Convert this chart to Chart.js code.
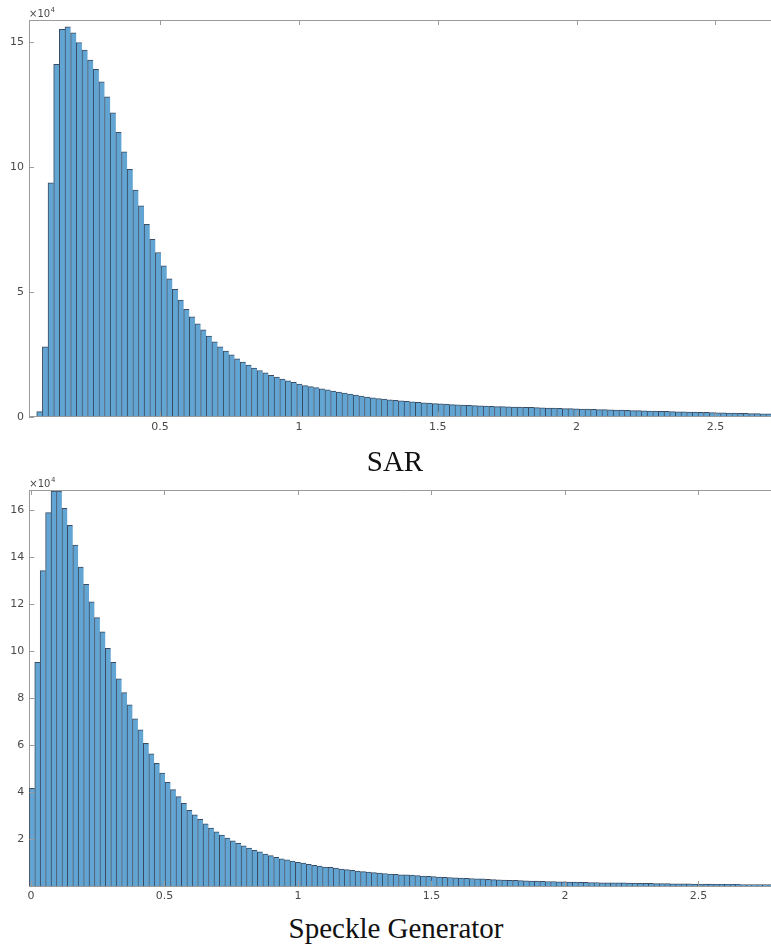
<!DOCTYPE html>
<html>
<head>
<meta charset="utf-8">
<script src="https://cdn.jsdelivr.net/npm/chart.js@4/dist/chart.umd.min.js"></script>
<style>
  html, body { margin: 0; padding: 0; background: #fff; }
  body { width: 771px; height: 946px; position: relative; overflow: hidden; }
  canvas { position: absolute; left: 0; }
  #c1 { top: 0; }
  #c2 { top: 470px; }
  .ttl { position: absolute; font-family: "Liberation Serif", "DejaVu Serif", serif; font-size: 29px; color: #111; white-space: nowrap; transform: translate(-50%, -50%); line-height: 1; }
</style>
</head>
<body>
<canvas id="c1" width="771" height="440"></canvas>
<canvas id="c2" width="771" height="440"></canvas>
<div class="ttl" style="left:395px; top:461px;">SAR</div>
<div class="ttl" style="left:396px; top:928px;">Speckle Generator</div>
<script>
// ---------- DATA (counts in units of 10^4) ----------
const sarBinStart = 0.0558;     // left edge of the first SAR bin
const sarBinWidth = 0.02035;
const sarCounts = [
  0.2, 2.8, 9.36, 14.1, 15.5, 15.6, 15.36, 14.97, 14.67, 14.27,
  13.9, 13.4, 12.8, 12.16, 11.38, 10.6, 9.9, 9.07, 8.44, 7.7,
  7.1, 6.57, 6.04, 5.52, 5.1, 4.67, 4.3, 4.0, 3.72, 3.48,
  3.23, 3.0, 2.8, 2.63, 2.48, 2.32, 2.19, 2.07, 1.95, 1.85,
  1.76, 1.66, 1.58, 1.5, 1.43, 1.37, 1.3, 1.24, 1.2, 1.16,
  1.11, 1.07, 1.02, 0.98, 0.94, 0.9, 0.86, 0.82, 0.78, 0.75,
  0.72, 0.7, 0.67, 0.65, 0.63, 0.61, 0.59, 0.57, 0.55, 0.54,
  0.52, 0.51, 0.5, 0.48, 0.47, 0.46, 0.45, 0.44, 0.43, 0.42,
  0.41, 0.4, 0.4, 0.39, 0.38, 0.38, 0.37, 0.37, 0.36, 0.35,
  0.34, 0.34, 0.33, 0.32, 0.32, 0.31, 0.3, 0.3, 0.29, 0.28,
  0.28, 0.27, 0.26, 0.26, 0.25, 0.24, 0.24, 0.23, 0.22, 0.22,
  0.21, 0.21, 0.2, 0.19, 0.19, 0.18, 0.18, 0.17, 0.17, 0.16,
  0.15, 0.15, 0.14, 0.14, 0.13, 0.13, 0.12, 0.12, 0.11, 0.11
];
const sarXTicks = [0.5, 1, 1.5, 2, 2.5];
const sarXTickLabels = ["0.5", "1", "1.5", "2", "2.5"];
const sarYTicks = [0, 5, 10, 15];
const sarYTickLabels = ["0", "5", "10", "15"];

const spkBinStart = -0.0064;    // left edge of the first Speckle Generator bin
const spkBinWidth = 0.02034;
const spkCounts = [
  4.16, 9.52, 13.42, 15.89, 16.8, 16.8, 16.07, 15.35, 14.51, 13.57,
  12.84, 12.09, 11.42, 10.81, 10.11, 9.52, 8.82, 8.23, 7.71, 7.11,
  6.64, 6.07, 5.62, 5.22, 4.8, 4.41, 4.1, 3.8, 3.52, 3.22,
  3.03, 2.84, 2.65, 2.46, 2.31, 2.17, 2.04, 1.92, 1.82, 1.71,
  1.61, 1.52, 1.45, 1.36, 1.29, 1.22, 1.16, 1.11, 1.06, 1.01,
  0.97, 0.92, 0.88, 0.85, 0.81, 0.79, 0.76, 0.72, 0.7, 0.67,
  0.64, 0.61, 0.59, 0.57, 0.55, 0.53, 0.51, 0.5, 0.48, 0.47,
  0.46, 0.44, 0.42, 0.41, 0.4, 0.38, 0.37, 0.36, 0.35, 0.34,
  0.33, 0.32, 0.31, 0.3, 0.28, 0.27, 0.26, 0.25, 0.24, 0.24,
  0.23, 0.22, 0.21, 0.21, 0.2, 0.19, 0.19, 0.18, 0.18, 0.17,
  0.17, 0.16, 0.16, 0.15, 0.15, 0.14, 0.14, 0.13, 0.13, 0.13,
  0.12, 0.12, 0.11, 0.11, 0.11, 0.1, 0.1, 0.1, 0.09, 0.09,
  0.09, 0.09, 0.08, 0.08, 0.08, 0.08, 0.07, 0.07, 0.07, 0.07,
  0.07, 0.06, 0.06, 0.06, 0.06, 0.06, 0.06
];
const spkXTicks = [0, 0.5, 1, 1.5, 2, 2.5];
const spkXTickLabels = ["0", "0.5", "1", "1.5", "2", "2.5"];
const spkYTicks = [2, 4, 6, 8, 10, 12, 14, 16];
const spkYTickLabels = ["2", "4", "6", "8", "10", "12", "14", "16"];
const exponentText = "×10";
const exponentPower = "4";

// ---------- STYLE ----------
const AXIS_COLOR = "#9b9b9b";
const TICK_FONT = { family: "'DejaVu Sans', sans-serif", size: 11 };
const TICK_COLOR = "#4a4a4a";
const BAR_FILL = "rgb(98,165,211)";
const BAR_EDGE = "rgba(25,45,70,0.85)";

const framePlugin = {
  id: "frame",
  afterDraw(chart) {
    const { ctx, chartArea: a, scales: { x, y } } = chart;
    ctx.save();
    ctx.strokeStyle = AXIS_COLOR;
    ctx.lineWidth = 1;
    const line = (x1, y1, x2, y2) => { ctx.beginPath(); ctx.moveTo(x1, y1); ctx.lineTo(x2, y2); ctx.stroke(); };
    line(a.left, Math.floor(a.top) + 0.5, a.right, Math.floor(a.top) + 0.5);
    x.ticks.forEach(t => {
      const px = Math.round(x.getPixelForValue(t.value)) + 0.5;
      line(px, a.bottom, px, a.bottom - 5);
      line(px, a.top, px, a.top + 5);
    });
    y.ticks.forEach(t => {
      const py = Math.round(y.getPixelForValue(t.value)) + 0.5;
      line(a.left, py, a.left + 5, py);
    });
    ctx.fillStyle = TICK_COLOR;
    ctx.font = "10px 'DejaVu Sans', sans-serif";
    ctx.textBaseline = "alphabetic";
    ctx.textAlign = "left";
    ctx.fillText(exponentText, a.left, a.top - 3);
    const w = ctx.measureText(exponentText).width;
    ctx.font = "7px 'DejaVu Sans', sans-serif";
    ctx.fillText(exponentPower, a.left + w + 0.5, a.top - 8);
    ctx.restore();
  }
};

function makeHist(canvasId, binStart, binWidth, counts, xMin, xMax, yMax,
                  xTicks, xLabels, yTicks, yLabels, padTop, padBottom, yAxisWidth) {
  const data = counts.map((c, i) => ({ x: binStart + (i + 0.5) * binWidth, y: c }));
  return new Chart(document.getElementById(canvasId), {
    type: "bar",
    data: {
      datasets: [{
        data,
        backgroundColor: BAR_FILL,
        borderColor: BAR_EDGE,
        borderWidth: { left: 1, top: 1, right: 0, bottom: 0 },
        borderSkipped: false,
        barPercentage: 1,
        categoryPercentage: 1,
        grouped: false
      }]
    },
    options: {
      responsive: false,
      animation: false,
      events: [],
      layout: { padding: { top: padTop, bottom: padBottom, left: 0, right: 0 } },
      plugins: { legend: { display: false }, tooltip: { enabled: false }, title: { display: false } },
      scales: {
        x: {
          type: "linear",
          offset: false,
          min: xMin, max: xMax,
          afterBuildTicks: s => { s.ticks = xTicks.map(v => ({ value: v })); },
          afterFit: s => { s.height = 22; },
          ticks: {
            autoSkip: false, maxRotation: 0, padding: 4,
            color: TICK_COLOR, font: TICK_FONT,
            callback: (v) => { const i = xTicks.indexOf(v); return i >= 0 ? xLabels[i] : ""; }
          },
          grid: { display: true, drawOnChartArea: false, drawTicks: false, offset: false },
          border: { display: true, color: AXIS_COLOR, width: 1 }
        },
        y: {
          type: "linear",
          min: 0, max: yMax,
          afterBuildTicks: s => { s.ticks = yTicks.map(v => ({ value: v })); },
          afterFit: s => { s.width = yAxisWidth; },
          ticks: {
            autoSkip: false, padding: 5,
            color: TICK_COLOR, font: TICK_FONT,
            callback: (v) => { const i = yTicks.indexOf(v); return i >= 0 ? yLabels[i] : ""; }
          },
          grid: { display: true, drawOnChartArea: false, drawTicks: false },
          border: { display: true, color: AXIS_COLOR, width: 1 }
        }
      }
    },
    plugins: [framePlugin]
  });
}

// Top: SAR. chart area ~ x 29..771, y 20..416.7
makeHist("c1", sarBinStart, sarBinWidth, sarCounts, 0.028, 2.70, 15.87,
  sarXTicks, sarXTickLabels, sarYTicks, sarYTickLabels, 20, 1.3, 29);
// Bottom: Speckle Generator. chart area ~ x 29.3..771, y 490..886 (canvas starts at 470)
makeHist("c2", spkBinStart, spkBinWidth, spkCounts, -0.0064, 2.772, 16.85,
  spkXTicks, spkXTickLabels, spkYTicks, spkYTickLabels, 20, 2, 29.3);
</script>
</body>
</html>
